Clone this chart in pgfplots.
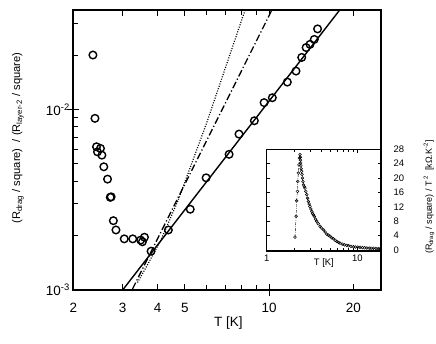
\documentclass[border=0pt]{standalone}
\usepackage{fontspec}
\setmainfont{Liberation Sans}
\usepackage{pgfplots}
\pgfplotsset{compat=1.18}
\begin{document}
\begin{tikzpicture}
\path[use as bounding box] (-73.3bp,-54bp) rectangle (362.7bp,290bp);
\begin{axis}[
  at={(0bp,0bp)}, anchor=south west,
  scale only axis, width=307.7bp, height=280bp,
  xmode=log, ymode=log,
  xmin=2, xmax=25.1, ymin=0.001, ymax=0.0355,
  xtick={2,3,4,5,10,20}, xticklabels={2,3,4,5,10,20},
  minor xtick={6,7,8,9},
  ytick={0.001,0.01}, yticklabels={10\textsuperscript{-3},10\textsuperscript{-2}},
  minor ytick={0.002,0.003,0.004,0.005,0.006,0.007,0.008,0.009,0.02,0.03},
  tick align=inside, xtick pos=both, ytick pos=left,
  major tick length=6bp, minor tick length=5bp,
  extra x ticks={10}, extra x tick labels={},
  extra x tick style={tick align=outside, xtick pos=bottom},
  extra y ticks={0.01}, extra y tick labels={},
  extra y tick style={tick align=outside, ytick pos=left},
  axis line style={line width=1.8bp},
  every tick/.style={line width=1bp, black},
  xticklabel style={font=\fontsize{13.5}{15}\selectfont, yshift=-10bp},
  yticklabel style={font=\fontsize{13.5}{15}\selectfont},
  xlabel={T [K]},
  every axis x label/.style={at={(axis description cs:0.504,-0.118)}, anchor=center, font=\fontsize{13.5}{15}\selectfont},
  ylabel={(R\textsubscript{drag} / square)\ \ / (R\textsubscript{layer-2} / square)},
  every axis y label/.style={at={(axis description cs:-0.18,0.543)}, rotate=90, anchor=center, font=\fontsize{11.2}{13}\selectfont},
]
\addplot[only marks, mark=o, mark size=3.8bp, mark options={line width=1.4bp, black}] coordinates {
(2.35,0.0200)(2.39,0.00892)(2.42,0.00621)(2.44,0.00582)(2.50,0.00608)(2.53,0.00558)
(2.57,0.00481)(2.65,0.00411)(2.71,0.00326)(2.73,0.00328)(2.78,0.00242)(2.84,0.00215)
(3.04,0.00192)(3.26,0.00192)(3.48,0.00189)(3.53,0.00185)(3.59,0.00196)(3.79,0.00164)
(4.37,0.00215)(5.23,0.00280)(5.96,0.00418)(7.20,0.00564)(7.81,0.00730)(8.86,0.00865)
(9.60,0.0109)(10.27,0.0116)(11.62,0.01416)(12.48,0.0163)(13.08,0.0194)(13.56,0.0220)
(14.0,0.0229)(14.5,0.0244)(14.9,0.0279)
};
\addplot[line width=1.4bp, black] coordinates {(2.9,0.000934)(18.2,0.0368)};
\addplot[line width=1.3bp, black, dash pattern=on 7bp off 2.5bp on 1.2bp off 2.5bp] coordinates {(3.1,0.000872)(10.6,0.0396)};
\addplot[line width=1.2bp, black, dash pattern=on 1bp off 1.5bp] coordinates {(3.39,0.0011)(3.7,0.0014)(4.11,0.00189)(4.74,0.00315)(6.0,0.0085)(8.21,0.0355)};
\end{axis}
\begin{axis}[
  at={(193.4bp,39bp)}, anchor=south west,
  scale only axis, width=114.3bp, height=101.7bp,
  xmode=log, xmin=1, xmax=18.2, ymin=-0.28, ymax=28,
  xtick={1,10}, xticklabels={1,10}, minor xtick={2,3,4,5,6,7,8,9},
  ytick={0,4,8,12,16,20,24,28}, yticklabels={0,4,8,12,16,20,24,28},
  tick align=inside, xtick pos=both, ytick pos=both, yticklabel pos=right,
  major tick length=3.5bp, minor tick length=3bp,
  axis background/.style={fill=white},
  axis line style={line width=1.5bp},
  every tick/.style={line width=0.8bp, black},
  xticklabel style={font=\fontsize{9.5}{11}\selectfont},
  yticklabel style={font=\fontsize{9.5}{11}\selectfont, xshift=9bp},
  xlabel={T [K]},
  every axis x label/.style={at={(axis description cs:0.5,-0.115)}, anchor=center, font=\fontsize{9.5}{11}\selectfont},
  ylabel={(R\textsubscript{drag} / square) / T\,\textsuperscript{2}\ \ [kΩ.K\textsuperscript{-2}]},
  every axis y label/.style={at={(axis description cs:1.42,0.53)}, rotate=90, anchor=center, font=\fontsize{9}{10}\selectfont},
]
\addplot[line width=0.4bp, black, dash pattern=on 3bp off 1.2bp on 0.6bp off 1.2bp, mark=o, mark size=1.4bp, mark options={solid, line width=0.5bp}] coordinates {
(2.05,3.6)(2.11,9.4)(2.14,13.7)(2.18,16.3)(2.20,19.1)(2.23,21.4)(2.27,23.7)(2.29,25.6)(2.33,26.5)
(2.35,25.8)(2.36,25)(2.37,24.2)(2.38,23.4)(2.40,22.6)(2.42,21.9)(2.45,21)(2.48,20)(2.51,19)
(2.54,18.1)(2.6,17.6)(2.65,17.2)(2.7,16.3)(2.76,15.4)(2.82,14.4)(2.88,13.5)(2.94,12.8)
(3.0,12.1)(3.07,11.4)(3.14,10.7)(3.2,10.2)(3.27,9.8)(3.35,9.3)(3.45,8.6)(3.56,8.0)(3.7,7.3)
(3.87,6.6)(4.0,6.1)(4.22,5.6)(4.4,5.0)(4.59,4.4)(4.8,4.1)(5.0,3.8)(5.2,3.4)(5.43,3.1)
(5.7,2.7)(5.92,2.4)(6.2,2.1)(6.44,1.9)(6.8,1.65)(7.2,1.45)(7.63,1.3)(8.0,1.15)(8.5,1.0)
(9.0,0.9)(9.5,0.83)(10.1,0.78)(10.7,0.74)(11.4,0.66)(12.0,0.6)(12.7,0.55)(13.5,0.5)
(14.2,0.48)(15.0,0.46)(16.0,0.42)(17.0,0.39)(17.8,0.37)
};
\end{axis}
\end{tikzpicture}
\end{document}
